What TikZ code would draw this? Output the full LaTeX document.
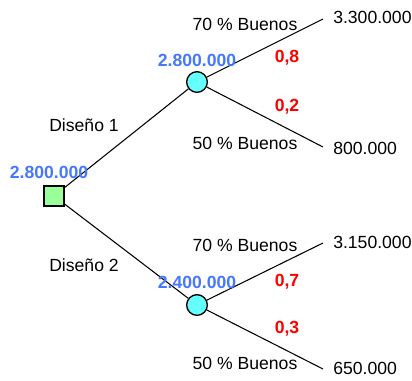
\documentclass[tikz,border=0pt]{standalone}
\usepackage{fontspec}
\setmainfont{Liberation Sans}
\definecolor{decgreen}{RGB}{153,255,153}
\definecolor{chancecyan}{RGB}{102,255,255}
\definecolor{valblue}{RGB}{70,120,255}
\begin{document}
\begin{tikzpicture}[x=0.75pt,y=-0.75pt]
    \tikzset{decision/.style={draw, line width=1pt, fill=decgreen,
                minimum size=15pt, inner sep=0pt},
             chance/.style={draw, line width=1pt, circle, fill=chancecyan,
                minimum size=15.5pt, inner sep=0pt},
             branch/.style={line width=0.8pt},
             txt/.style={font=\fontsize{13.2}{16}\selectfont, inner sep=0pt},
             value/.style={txt, font=\fontsize{13.2}{16}\selectfont\bfseries, text=valblue},
             prob/.style={txt, font=\fontsize{13.2}{16}\selectfont\bfseries, text=red},
             payoff/.style={txt, anchor=west}}
    \useasboundingbox (0,0) rectangle (412,380);
    % nodes
    \node[decision] (root) at (54,196) {};
    \node[chance] (c1) at (197,82) {};
    \node[chance] (c2) at (197,305) {};
    \coordinate (e1) at (323,19);
    \coordinate (e2) at (323,147);
    \coordinate (e3) at (323,243);
    \coordinate (e4) at (323,369);
    % branches
    \draw[branch] (root) -- (c1);
    \draw[branch] (root) -- (c2);
    \draw[branch] (c1) -- (e1);
    \draw[branch] (c1) -- (e2);
    \draw[branch] (c2) -- (e3);
    \draw[branch] (c2) -- (e4);
    % labels
    \node[value] (v0) at (49,172) {2.800.000};
    \node[value] (v1) at (197,60) {2.800.000};
    \node[value] (v2) at (197,282) {2.400.000};
    \node[txt] (d1) at (84,125) {Diseño 1};
    \node[txt] (d2) at (84,265) {Diseño 2};
    \node[txt] (b1) at (245,24) {70 \% Buenos};
    \node[txt] (b2) at (245,143) {50 \% Buenos};
    \node[txt] (b3) at (245,245) {70 \% Buenos};
    \node[txt] (b4) at (245,363) {50 \% Buenos};
    \node[prob] (p1) at (287,58) {0,8};
    \node[prob] (p2) at (287,107) {0,2};
    \node[prob] (p3) at (287,282) {0,7};
    \node[prob] (p4) at (287,329) {0,3};
    \node[payoff] (r1) at (333,17) {3.300.000};
    \node[payoff] (r2) at (333,148) {800.000};
    \node[payoff] (r3) at (333,242) {3.150.000};
    \node[payoff] (r4) at (333,368) {650.000};
\end{tikzpicture}
\end{document}
